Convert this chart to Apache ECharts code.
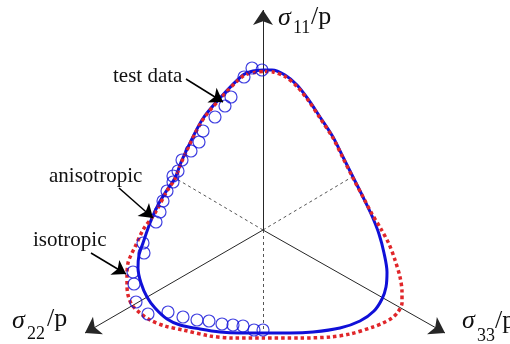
<!DOCTYPE html>
<html>
<head>
<meta charset="utf-8">
<script src="https://cdn.jsdelivr.net/npm/echarts@6/dist/echarts.min.js"></script>
<style>
html, body { margin: 0; padding: 0; background: #fff; }
#chart { width: 510px; height: 344px; }
</style>
</head>
<body>
<div id="chart"></div>
<script>
// Deviatoric (pi-plane) coordinates, normalised by p.
// Origin on the hydrostatic axis, +y along the sigma_11 projection.

// Anisotropic failure criterion (solid blue), traced clockwise from the sigma_11 apex
const anisotropicCurve = [
  [0.00, 1.60], [0.09, 1.60], [0.22, 1.55], [0.34, 1.45], [0.45, 1.31],
  [0.57, 1.13], [0.70, 0.93], [0.80, 0.73], [0.90, 0.53], [1.00, 0.33],
  [1.09, 0.14], [1.16, -0.04], [1.21, -0.23], [1.24, -0.42], [1.23, -0.57],
  [1.19, -0.69], [1.11, -0.81], [0.97, -0.91], [0.77, -0.98], [0.50, -1.02],
  [0.27, -1.03], [0.00, -1.03], [-0.23, -1.03], [-0.43, -1.02], [-0.63, -0.99],
  [-0.83, -0.95], [-0.96, -0.89], [-1.08, -0.78], [-1.16, -0.67], [-1.22, -0.53],
  [-1.25, -0.38], [-1.24, -0.25], [-1.20, -0.13], [-1.13, 0.07], [-1.05, 0.25],
  [-0.96, 0.40], [-0.88, 0.52], [-0.81, 0.70], [-0.61, 1.10], [-0.43, 1.32],
  [-0.20, 1.55], [-0.10, 1.59], [0.00, 1.60]
];

// Isotropic failure criterion (dotted red)
const isotropicCurve = [
  [0.02, 1.585], [0.10, 1.58], [0.22, 1.535], [0.34, 1.435], [0.45, 1.30],
  [0.57, 1.12], [0.70, 0.92], [0.80, 0.72], [0.90, 0.52], [1.00, 0.33],
  [1.09, 0.16], [1.18, 0.01], [1.26, -0.14], [1.32, -0.30], [1.37, -0.47],
  [1.39, -0.62], [1.39, -0.73], [1.35, -0.82], [1.29, -0.88], [1.20, -0.93],
  [1.10, -0.97], [0.87, -1.04], [0.67, -1.07], [0.37, -1.08], [0.00, -1.08],
  [-0.30, -1.08], [-0.53, -1.06], [-0.80, -1.00], [-0.98, -0.96], [-1.13, -0.90],
  [-1.23, -0.83], [-1.31, -0.75], [-1.35, -0.65], [-1.36, -0.55], [-1.36, -0.45],
  [-1.35, -0.33], [-1.32, -0.25], [-1.28, -0.17], [-1.20, 0.00], [-1.08, 0.17],
  [-0.96, 0.39], [-0.88, 0.51], [-0.81, 0.69], [-0.61, 1.09], [-0.43, 1.31],
  [-0.20, 1.54], [-0.09, 1.575], [0.02, 1.585]
];

// Measured failure states
const testData = [
  [-0.11, 1.62], [-0.01, 1.60], [-0.19, 1.53], [-0.32, 1.33], [-0.38, 1.24],
  [-0.48, 1.13], [-0.60, 0.99], [-0.64, 0.88], [-0.72, 0.79], [-0.81, 0.70],
  [-0.85, 0.59], [-0.90, 0.54], [-0.90, 0.48], [-0.96, 0.39], [-1.00, 0.29],
  [-1.03, 0.18], [-1.07, 0.08], [-1.20, -0.13], [-1.19, -0.23], [-1.30, -0.42],
  [-1.29, -0.54], [-1.27, -0.72], [-1.15, -0.84], [-0.95, -0.82], [-0.80, -0.87],
  [-0.66, -0.90], [-0.54, -0.91], [-0.41, -0.94], [-0.30, -0.95], [-0.20, -0.96],
  [-0.09, -1.00], [0.00, -1.00]
];

// Principal stress axes (sigma_11, sigma_22, sigma_33) and their negative branches
const axisTips = [[0, 2.20], [-1.78, -1.03], [1.82, -1.03]];
const negativeBranches = [[0, -1.03], [-0.88, 0.52], [0.89, 0.53]];

// Call-out arrows: [from, to]
const callouts = [
  [[-0.77, 1.51], [-0.40, 1.28]],   // test data
  [[-1.44, 0.42], [-1.10, 0.12]],   // anisotropic
  [[-1.72, -0.23], [-1.37, -0.44]]  // isotropic
];

const BLUE = '#1010d8';
const RED = '#e0262a';
const SERIF = '"Liberation Serif", "DejaVu Serif", serif';

const chart = echarts.init(document.getElementById('chart'), null, { renderer: 'canvas' });

const option = {
  animation: false,
  backgroundColor: '#fff',
  grid: { left: 0, right: 0, top: 0, bottom: 0 },
  xAxis: { type: 'value', min: -2.63, max: 2.47, show: false },
  yAxis: { type: 'value', min: -1.14, max: 2.30, show: false },
  series: [
    {
      type: 'lines',
      coordinateSystem: 'cartesian2d',
      silent: true,
      z: 1,
      symbol: ['none', 'none'],
      lineStyle: { color: '#555', width: 1, type: [3, 3], opacity: 1 },
      data: negativeBranches.map(p => ({ coords: [[0, 0], p] }))
    },
    {
      type: 'lines',
      coordinateSystem: 'cartesian2d',
      silent: true,
      z: 1,
      symbol: ['none', 'arrow'],
      symbolSize: [8, 15],
      lineStyle: { color: '#262626', width: 1, opacity: 1 },
      data: axisTips.map(p => ({ coords: [[0, 0], p] }))
    },
    {
      type: 'line',
      silent: true,
      z: 2,
      smooth: 0.3,
      showSymbol: false,
      symbol: 'none',
      lineStyle: { color: BLUE, width: 3 },
      data: anisotropicCurve
    },
    {
      type: 'line',
      silent: true,
      z: 3,
      smooth: 0.3,
      showSymbol: false,
      symbol: 'none',
      lineStyle: { color: RED, width: 3.5, type: [3.5, 3] },
      data: isotropicCurve
    },
    {
      type: 'scatter',
      silent: true,
      z: 4,
      symbol: 'circle',
      symbolSize: 12,
      itemStyle: { color: 'rgba(0,0,0,0)', borderColor: BLUE, borderWidth: 1.2 },
      data: testData
    },
    {
      type: 'lines',
      coordinateSystem: 'cartesian2d',
      silent: true,
      z: 5,
      symbol: ['none', 'arrow'],
      symbolSize: [7, 13],
      lineStyle: { color: '#000', width: 1.5, opacity: 1 },
      data: callouts.map(c => ({ coords: c }))
    }
  ],
  graphic: [
    // annotations
    { type: 'text', left: 113, top: 66, style: { text: 'test data', font: '21px ' + SERIF, fill: '#111' } },
    { type: 'text', left: 49, top: 166, style: { text: 'anisotropic', font: '21px ' + SERIF, fill: '#111' } },
    { type: 'text', left: 33, top: 230, style: { text: 'isotropic', font: '21px ' + SERIF, fill: '#111' } },
    // sigma_11 / p
    { type: 'text', left: 278, top: 5, style: { text: 'σ', font: 'italic 26px ' + SERIF, fill: '#111' } },
    { type: 'text', left: 293, top: 19, style: { text: '11', font: '18px ' + SERIF, fill: '#111' } },
    { type: 'text', left: 311, top: 4, style: { text: '/p', font: '26px ' + SERIF, fill: '#111' } },
    // sigma_22 / p
    { type: 'text', left: 12, top: 308, style: { text: 'σ', font: 'italic 26px ' + SERIF, fill: '#111' } },
    { type: 'text', left: 27, top: 325, style: { text: '22', font: '18px ' + SERIF, fill: '#111' } },
    { type: 'text', left: 47, top: 306, style: { text: '/p', font: '26px ' + SERIF, fill: '#111' } },
    // sigma_33 / p
    { type: 'text', left: 462, top: 308, style: { text: 'σ', font: 'italic 26px ' + SERIF, fill: '#111' } },
    { type: 'text', left: 477, top: 327, style: { text: '33', font: '18px ' + SERIF, fill: '#111' } },
    { type: 'text', left: 495, top: 308, style: { text: '/p', font: '26px ' + SERIF, fill: '#111' } }
  ]
};

chart.setOption(option);
</script>
</body>
</html>
